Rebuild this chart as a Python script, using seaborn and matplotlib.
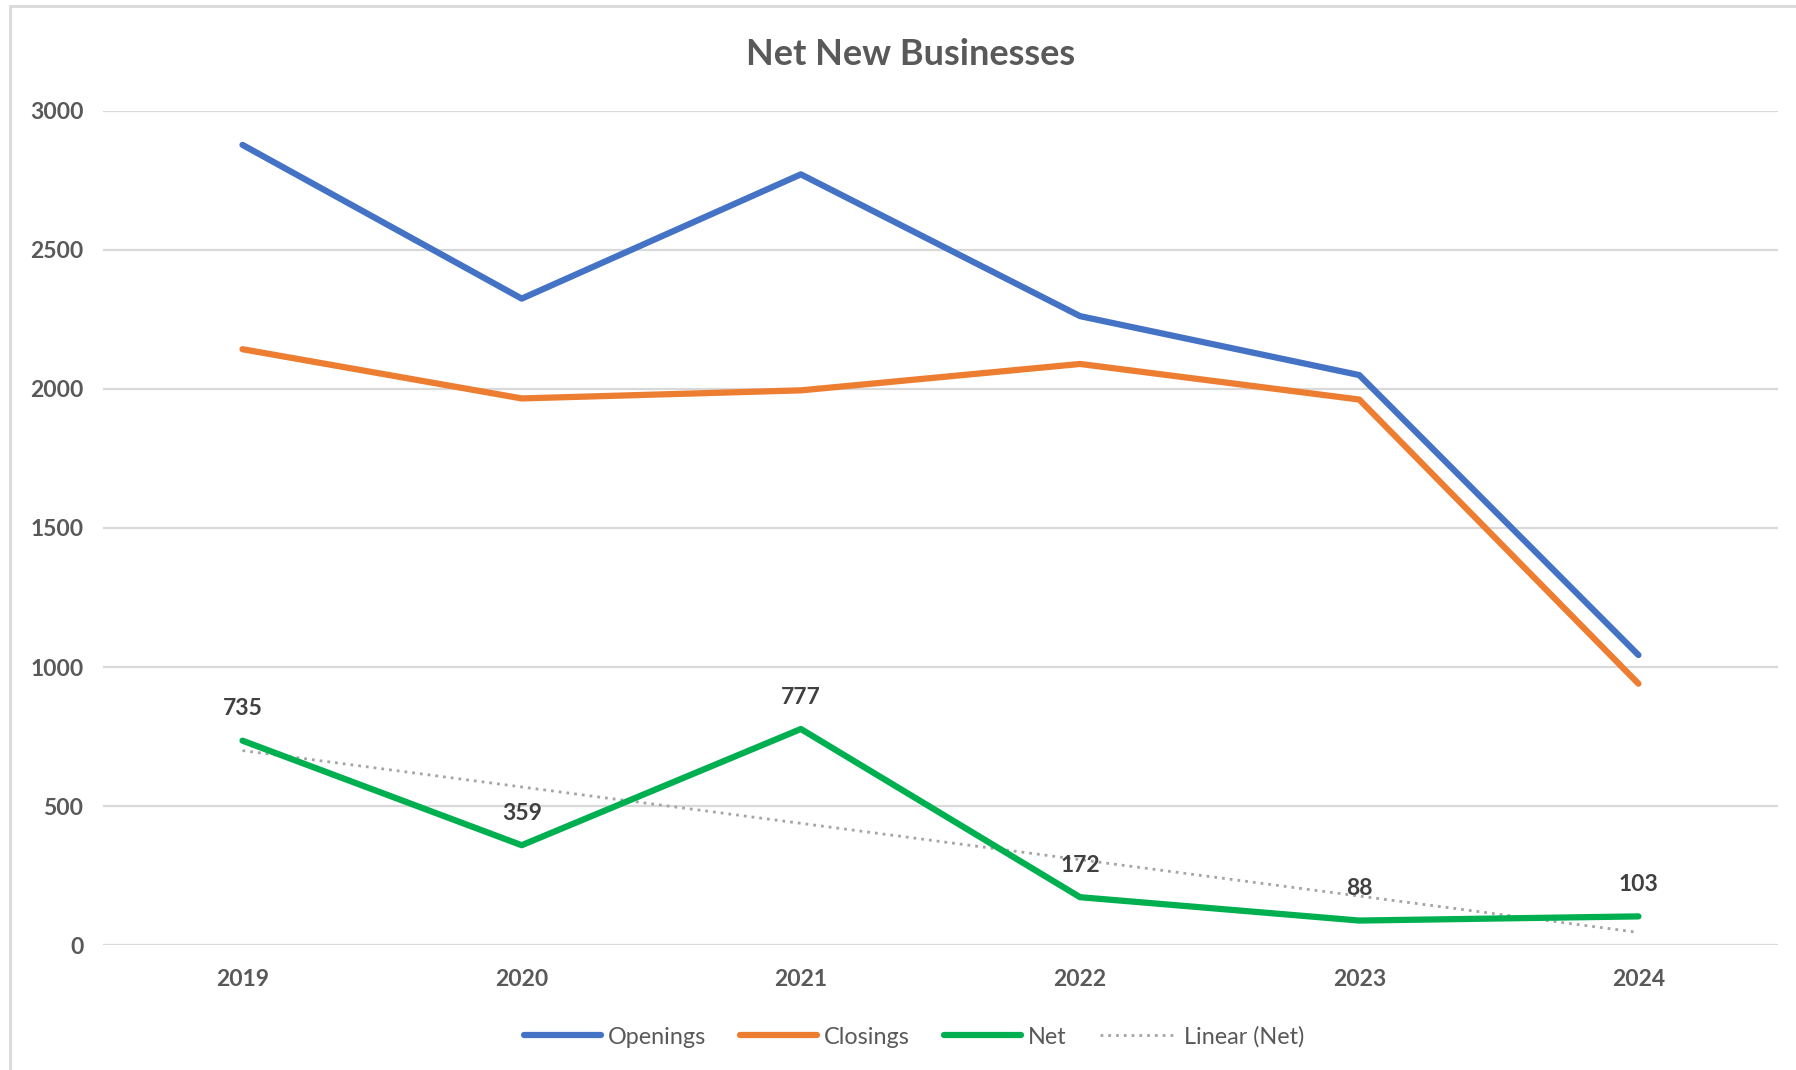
import numpy as np
import pandas as pd
import matplotlib
matplotlib.use("Agg")
import matplotlib.pyplot as plt
from matplotlib.lines import Line2D
import seaborn as sns

# ------------------------------------------
# Data
# ------------------------------------------
years = ["2019", "2020", "2021", "2022", "2023", "2024"]
openings = [2878, 2325, 2772, 2262, 2050, 1043]
closings = [2143, 1966, 1995, 2090, 1962, 940]
net = [735, 359, 777, 172, 88, 103]

colors = {"Openings": "#4472C4", "Closings": "#ED7D31", "Net": "#00B050"}
text_color = "#595959"

df = pd.DataFrame({"Year": years, "Openings": openings, "Closings": closings, "Net": net})
long_df = df.melt(id_vars="Year", var_name="Series", value_name="Value")

# ------------------------------------------
# Style
# ------------------------------------------
sns.set_style("white")
plt.rcParams["font.family"] = ["Lato", "DejaVu Sans"]

fig = plt.figure(figsize=(17.96, 10.70), dpi=100)
ax = fig.add_axes([0.0573, 0.1168, 0.9327, 0.7795])

sns.lineplot(
    data=long_df, x="Year", y="Value", hue="Series",
    palette=colors, linewidth=4.5, ax=ax, legend=False,
    sort=False,
)

# linear trendline on Net
xpos = np.arange(len(years))
slope, intercept = np.polyfit(xpos + 1, net, 1)
trend = slope * (xpos + 1) + intercept
trend_style = (0, (1, 1.8))
ax.plot(xpos, trend, color="#A5A5A5", linewidth=2, linestyle=trend_style, zorder=1)

# data labels for Net
for i, v in enumerate(net):
    ax.annotate(str(v), (i, v), xytext=(0, 23), textcoords="offset points",
                ha="center", va="center", fontsize=16.5, fontweight="bold",
                color="#404040")

# ------------------------------------------
# Axes
# ------------------------------------------
ax.set_xlim(-0.5, len(years) - 0.5)
ax.set_ylim(0, 3000)
ax.set_yticks(range(0, 3001, 500))
ax.grid(axis="y", color="#D9D9D9", linewidth=1.6)
ax.set_axisbelow(True)
for s in ax.spines.values():
    s.set_visible(False)
ax.tick_params(axis="both", length=0, labelsize=16.5, labelcolor=text_color)
ax.tick_params(axis="y", pad=14)
ax.tick_params(axis="x", pad=17)
for lbl in ax.get_xticklabels() + ax.get_yticklabels():
    lbl.set_fontweight("bold")
ax.set_xlabel("")
ax.set_ylabel("")

fig.text(0.507, 0.949, "Net New Businesses", ha="center", va="center",
         fontsize=26, fontweight="bold", color=text_color)

# ------------------------------------------
# Legend
# ------------------------------------------
handles = [
    Line2D([], [], color=colors["Openings"], linewidth=4.5, solid_capstyle="round"),
    Line2D([], [], color=colors["Closings"], linewidth=4.5, solid_capstyle="round"),
    Line2D([], [], color=colors["Net"], linewidth=4.5, solid_capstyle="round"),
    Line2D([], [], color="#A5A5A5", linewidth=2, linestyle=trend_style),
]
fig.legend(handles, ["Openings", "Closings", "Net", "Linear (Net)"],
           loc="center", bbox_to_anchor=(0.509, 0.031), ncol=4, frameon=False,
           fontsize=16.8, labelcolor=text_color, handlelength=3.3,
           handletextpad=0.3, columnspacing=1.45)

# chart border (left and top edges)
fig.add_artist(Line2D([0.0053, 0.0053], [0, 0.9944], color="#D9D9D9", linewidth=2))
fig.add_artist(Line2D([0.0053, 1.0], [0.9944, 0.9944], color="#D9D9D9", linewidth=2))

plt.savefig("out.png", dpi=100)
